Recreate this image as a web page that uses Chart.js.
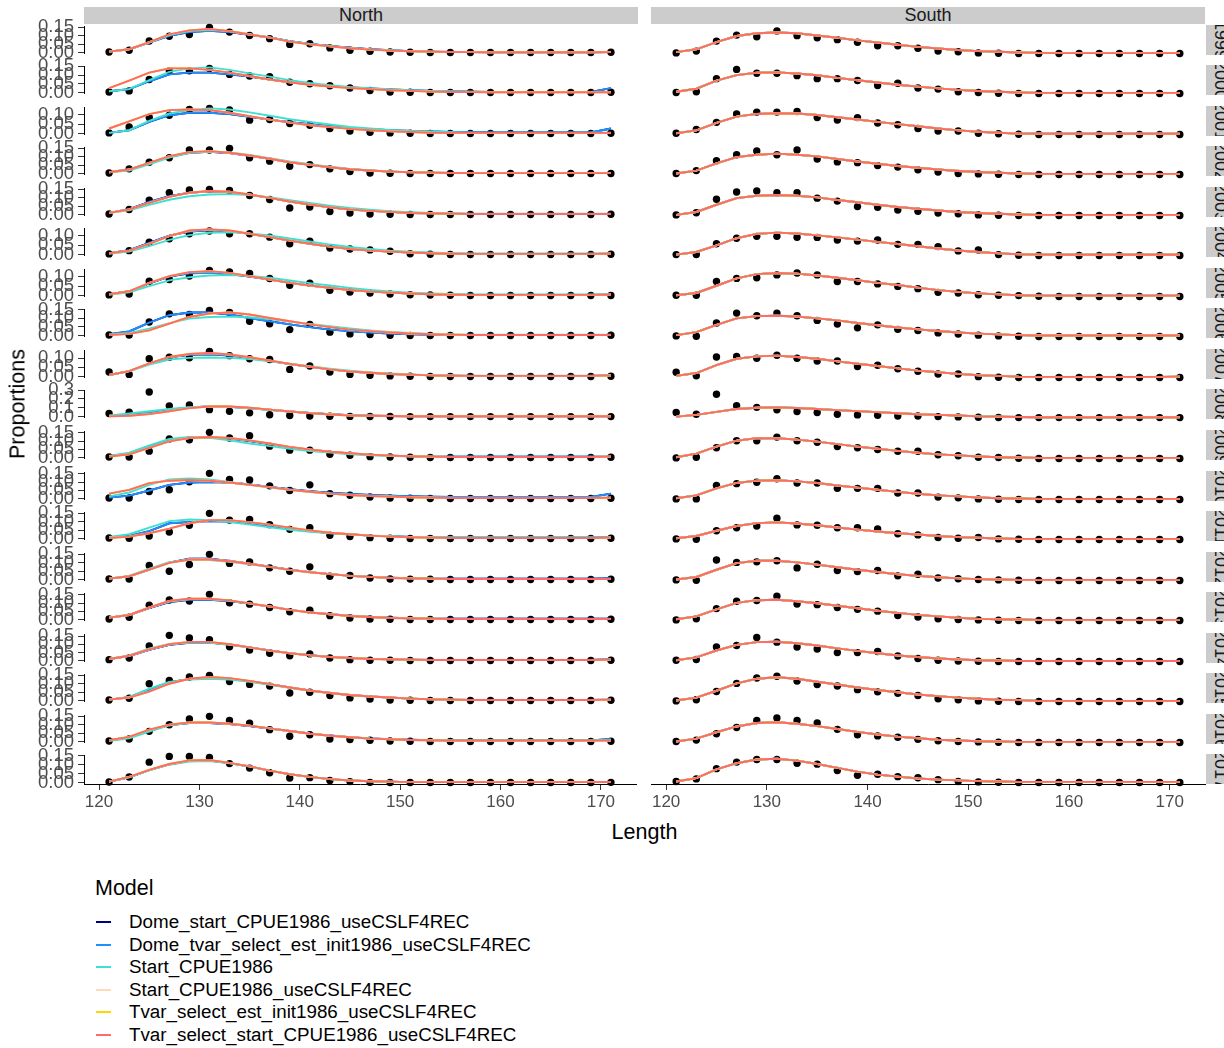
<!DOCTYPE html>
<html>
<head>
<meta charset="utf-8">
<script src="https://cdn.jsdelivr.net/npm/chart.js@4.4.1/dist/chart.umd.min.js"></script>
<style>
  body { margin: 0; background: #fff; }
  #stage { position: relative; width: 1224px; height: 1048px; overflow: hidden; background: #fff;
           font-family: "Liberation Sans", Arial, Helvetica, sans-serif; }
  #stage canvas { position: absolute; }
  .strip { position: absolute; background: #cccccc; color: #1a1a1a; font-size: 18px;
           display: flex; align-items: center; justify-content: center; white-space: nowrap; overflow: hidden; }
  .rstrip { writing-mode: vertical-rl; }
  .title { position: absolute; color: #000; font-size: 21.5px; white-space: nowrap; }
  .key { position: absolute; height: 2px; width: 15px; }
  .lab { position: absolute; color: #000; font-size: 18.8px; white-space: nowrap; }
</style>
</head>
<body>
<div id="stage"></div>
<script>
// ===== Data =====
const lengths = [121,123,125,127,129,131,133,135,137,139,141,143,145,147,149,151,153,155,157,159,161,163,165,167,169,171];
const years = ["1999","2000","2001","2002","2003","2004","2005","2006","2007","2008",
               "2009","2010","2011","2012","2013","2014","2015","2016","2017"];
const regions = ["North", "South"];
const xTicks = [120, 130, 140, 150, 160, 170];
const yTicks = [
  [0,0.05,0.1,0.15],[0,0.05,0.1,0.15],[0,0.05,0.1],[0,0.05,0.1,0.15],[0,0.05,0.1,0.15],
  [0,0.05,0.1],[0,0.05,0.1],[0,0.05,0.1,0.15],[0,0.05,0.1],[0,0.1,0.2,0.3],
  [0,0.05,0.1,0.15],[0,0.05,0.1,0.15],[0,0.05,0.1,0.15],[0,0.05,0.1,0.15],[0,0.05,0.1,0.15],
  [0,0.05,0.1,0.15],[0,0.05,0.1,0.15],[0,0.05,0.1,0.15],[0,0.05,0.1,0.15]
];

// observed proportions, one row per year
const obsNorth = [
  [0.004,0.014,0.069,0.097,0.108,0.150,0.122,0.102,0.083,0.049,0.053,0.028,0.014,0.008,0.004,0.002,0.001,0.001,0.001,0.001,0.001,0.001,0.001,0.001,0.001,0.002],
  [0.004,0.010,0.075,0.124,0.124,0.138,0.104,0.095,0.091,0.059,0.051,0.039,0.026,0.012,0.004,0.002,0.001,0.001,0.001,0.001,0.001,0.001,0.001,0.001,0.001,0.002],
  [0.004,0.035,0.085,0.097,0.127,0.133,0.124,0.071,0.074,0.053,0.044,0.027,0.014,0.007,0.004,0.002,0.001,0.001,0.001,0.001,0.001,0.001,0.001,0.001,0.001,0.002],
  [0.004,0.028,0.067,0.093,0.138,0.138,0.148,0.093,0.073,0.043,0.053,0.028,0.012,0.004,0.002,0.001,0.001,0.001,0.001,0.001,0.001,0.001,0.001,0.001,0.001,0.001],
  [0.004,0.030,0.085,0.128,0.144,0.148,0.142,0.112,0.089,0.039,0.045,0.018,0.010,0.004,0.002,0.001,0.001,0.001,0.001,0.001,0.001,0.001,0.001,0.001,0.001,0.002],
  [0.004,0.021,0.065,0.083,0.110,0.124,0.110,0.110,0.092,0.057,0.071,0.035,0.030,0.025,0.018,0.005,0.002,0.001,0.001,0.001,0.001,0.001,0.001,0.001,0.001,0.002],
  [0.004,0.009,0.076,0.085,0.103,0.133,0.124,0.117,0.090,0.055,0.065,0.028,0.019,0.014,0.009,0.005,0.003,0.002,0.001,0.001,0.001,0.001,0.001,0.001,0.001,0.001],
  [0.004,0.004,0.079,0.126,0.122,0.146,0.134,0.083,0.069,0.035,0.065,0.020,0.010,0.006,0.002,0.001,0.001,0.001,0.001,0.001,0.001,0.001,0.001,0.001,0.001,0.002],
  [0.025,0.012,0.096,0.104,0.101,0.136,0.113,0.096,0.092,0.039,0.057,0.025,0.012,0.007,0.004,0.002,0.001,0.001,0.001,0.001,0.001,0.001,0.001,0.001,0.001,0.002],
  [0.036,0.050,0.278,0.122,0.133,0.079,0.061,0.043,0.022,0.014,0.007,0.004,0.003,0.002,0.002,0.001,0.001,0.001,0.001,0.001,0.001,0.001,0.001,0.001,0.001,0.001],
  [0.004,0.004,0.039,0.112,0.108,0.152,0.118,0.132,0.069,0.045,0.045,0.020,0.014,0.006,0.004,0.002,0.001,0.001,0.001,0.001,0.001,0.001,0.001,0.001,0.001,0.002],
  [0.004,0.004,0.043,0.053,0.102,0.152,0.116,0.112,0.077,0.049,0.083,0.030,0.020,0.010,0.004,0.002,0.001,0.001,0.001,0.001,0.001,0.001,0.001,0.001,0.001,0.002],
  [0.004,0.002,0.016,0.039,0.079,0.150,0.110,0.114,0.083,0.055,0.065,0.020,0.012,0.006,0.002,0.001,0.001,0.001,0.001,0.001,0.001,0.001,0.001,0.001,0.001,0.002],
  [0.004,0.004,0.083,0.049,0.089,0.148,0.095,0.104,0.069,0.049,0.075,0.020,0.024,0.010,0.004,0.003,0.002,0.001,0.001,0.001,0.001,0.001,0.001,0.001,0.001,0.002],
  [0.004,0.014,0.087,0.118,0.112,0.152,0.102,0.093,0.073,0.047,0.057,0.024,0.010,0.004,0.002,0.001,0.001,0.001,0.001,0.001,0.001,0.001,0.001,0.001,0.001,0.002],
  [0.006,0.016,0.089,0.154,0.138,0.128,0.085,0.065,0.045,0.030,0.041,0.016,0.006,0.002,0.002,0.001,0.001,0.001,0.001,0.001,0.001,0.001,0.001,0.001,0.001,0.002],
  [0.004,0.014,0.099,0.118,0.138,0.148,0.112,0.095,0.085,0.045,0.049,0.030,0.016,0.010,0.004,0.002,0.001,0.001,0.001,0.001,0.001,0.001,0.001,0.001,0.001,0.002],
  [0.004,0.016,0.061,0.100,0.134,0.150,0.126,0.110,0.071,0.032,0.041,0.016,0.012,0.008,0.004,0.002,0.001,0.001,0.001,0.001,0.001,0.001,0.001,0.001,0.001,0.002],
  [0.004,0.032,0.114,0.146,0.146,0.140,0.106,0.081,0.055,0.026,0.028,0.012,0.006,0.002,0.001,0.001,0.001,0.001,0.001,0.001,0.001,0.001,0.001,0.001,0.001,0.002]
];
const obsSouth = [
  [0.004,0.014,0.069,0.102,0.093,0.125,0.099,0.087,0.077,0.063,0.043,0.043,0.030,0.014,0.010,0.004,0.002,0.001,0.001,0.001,0.001,0.001,0.001,0.001,0.001,0.001],
  [0.006,0.010,0.079,0.128,0.108,0.108,0.095,0.079,0.079,0.069,0.043,0.055,0.030,0.024,0.010,0.006,0.002,0.001,0.001,0.001,0.001,0.001,0.001,0.001,0.001,0.001],
  [0.007,0.025,0.060,0.101,0.110,0.110,0.113,0.083,0.071,0.083,0.057,0.048,0.030,0.018,0.018,0.007,0.004,0.002,0.001,0.001,0.001,0.001,0.001,0.001,0.001,0.001],
  [0.006,0.022,0.075,0.108,0.128,0.108,0.134,0.085,0.069,0.065,0.049,0.041,0.026,0.014,0.006,0.004,0.002,0.001,0.001,0.001,0.001,0.001,0.001,0.001,0.001,0.001],
  [0.004,0.016,0.089,0.128,0.134,0.124,0.124,0.095,0.079,0.049,0.045,0.030,0.024,0.014,0.010,0.004,0.002,0.001,0.001,0.001,0.001,0.001,0.001,0.001,0.001,0.001],
  [0.005,0.005,0.058,0.085,0.094,0.094,0.090,0.089,0.076,0.071,0.076,0.055,0.055,0.044,0.023,0.028,0.005,0.002,0.001,0.001,0.001,0.001,0.001,0.001,0.001,0.001],
  [0.007,0.007,0.074,0.089,0.092,0.106,0.115,0.106,0.074,0.074,0.062,0.050,0.039,0.021,0.018,0.009,0.007,0.005,0.002,0.001,0.001,0.001,0.001,0.001,0.001,0.001],
  [0.004,0.002,0.073,0.126,0.112,0.126,0.112,0.087,0.067,0.047,0.063,0.039,0.033,0.020,0.014,0.008,0.004,0.002,0.001,0.001,0.001,0.001,0.001,0.001,0.001,0.001],
  [0.027,0.009,0.103,0.106,0.097,0.112,0.097,0.083,0.083,0.055,0.062,0.044,0.032,0.018,0.018,0.005,0.002,0.001,0.001,0.001,0.001,0.001,0.001,0.001,0.001,0.001],
  [0.054,0.036,0.245,0.126,0.108,0.083,0.065,0.054,0.036,0.029,0.025,0.018,0.018,0.011,0.008,0.004,0.002,0.001,0.001,0.001,0.001,0.001,0.001,0.001,0.001,0.001],
  [0.004,0.008,0.061,0.100,0.100,0.120,0.100,0.091,0.067,0.061,0.051,0.041,0.041,0.022,0.016,0.008,0.006,0.002,0.001,0.001,0.001,0.001,0.001,0.001,0.001,0.001],
  [0.004,0.004,0.079,0.089,0.097,0.116,0.093,0.093,0.063,0.063,0.063,0.037,0.037,0.014,0.010,0.004,0.002,0.001,0.001,0.001,0.001,0.001,0.001,0.001,0.001,0.001],
  [0.004,0.002,0.049,0.065,0.075,0.118,0.081,0.079,0.065,0.065,0.059,0.032,0.026,0.012,0.008,0.012,0.004,0.002,0.001,0.001,0.001,0.001,0.001,0.001,0.001,0.001],
  [0.004,0.002,0.112,0.099,0.102,0.108,0.069,0.089,0.055,0.049,0.055,0.026,0.035,0.014,0.010,0.006,0.004,0.002,0.001,0.001,0.001,0.001,0.001,0.001,0.001,0.001],
  [0.004,0.010,0.067,0.108,0.112,0.136,0.093,0.089,0.073,0.063,0.053,0.028,0.020,0.010,0.006,0.004,0.002,0.001,0.001,0.001,0.001,0.001,0.001,0.001,0.001,0.001],
  [0.008,0.012,0.083,0.091,0.136,0.110,0.083,0.071,0.051,0.051,0.057,0.032,0.018,0.008,0.004,0.002,0.001,0.001,0.001,0.001,0.001,0.001,0.001,0.001,0.001,0.001],
  [0.004,0.010,0.055,0.099,0.128,0.138,0.112,0.093,0.085,0.065,0.053,0.045,0.033,0.016,0.010,0.004,0.002,0.001,0.001,0.001,0.001,0.001,0.001,0.001,0.001,0.001],
  [0.006,0.014,0.049,0.083,0.122,0.136,0.122,0.108,0.073,0.043,0.037,0.030,0.018,0.010,0.006,0.004,0.002,0.001,0.001,0.001,0.001,0.001,0.001,0.001,0.001,0.001],
  [0.006,0.020,0.075,0.110,0.124,0.124,0.104,0.099,0.065,0.039,0.045,0.032,0.026,0.016,0.006,0.004,0.002,0.001,0.001,0.001,0.001,0.001,0.001,0.001,0.001,0.001]
];

// fitted curves, North (the models that sit on top of each other share a row)
const fitNorthTvarStart = [
  [0.006,0.020,0.063,0.108,0.132,0.140,0.128,0.108,0.089,0.065,0.049,0.037,0.026,0.018,0.012,0.008,0.006,0.004,0.003,0.002,0.002,0.002,0.002,0.002,0.002,0.003],
  [0.026,0.069,0.114,0.138,0.138,0.130,0.114,0.095,0.075,0.059,0.045,0.035,0.026,0.020,0.014,0.010,0.006,0.004,0.003,0.002,0.002,0.002,0.002,0.002,0.002,0.002],
  [0.027,0.064,0.103,0.124,0.127,0.124,0.110,0.092,0.074,0.058,0.044,0.034,0.025,0.018,0.012,0.009,0.005,0.004,0.004,0.004,0.004,0.004,0.004,0.004,0.004,0.004],
  [0.008,0.024,0.063,0.102,0.126,0.132,0.122,0.106,0.087,0.067,0.051,0.037,0.026,0.018,0.012,0.008,0.006,0.004,0.003,0.003,0.003,0.003,0.003,0.003,0.003,0.003],
  [0.010,0.030,0.069,0.104,0.128,0.138,0.134,0.118,0.098,0.077,0.059,0.043,0.030,0.022,0.016,0.010,0.008,0.006,0.004,0.004,0.004,0.004,0.004,0.004,0.004,0.004],
  [0.007,0.021,0.057,0.097,0.127,0.133,0.127,0.110,0.092,0.074,0.057,0.042,0.030,0.021,0.016,0.011,0.007,0.005,0.004,0.004,0.004,0.004,0.004,0.004,0.004,0.005],
  [0.007,0.023,0.067,0.103,0.124,0.129,0.120,0.103,0.085,0.067,0.053,0.041,0.030,0.021,0.016,0.011,0.007,0.005,0.004,0.004,0.004,0.004,0.004,0.004,0.004,0.005],
  [0.004,0.010,0.030,0.069,0.108,0.128,0.134,0.122,0.102,0.083,0.065,0.049,0.035,0.026,0.018,0.012,0.008,0.006,0.004,0.004,0.004,0.004,0.004,0.004,0.004,0.004],
  [0.009,0.030,0.071,0.106,0.122,0.127,0.119,0.104,0.087,0.069,0.053,0.039,0.028,0.021,0.014,0.011,0.007,0.005,0.004,0.004,0.004,0.004,0.004,0.004,0.004,0.007],
  [0.003,0.011,0.029,0.061,0.097,0.115,0.115,0.101,0.079,0.058,0.040,0.025,0.014,0.011,0.007,0.004,0.004,0.004,0.004,0.004,0.004,0.004,0.004,0.004,0.004,0.004],
  [0.006,0.020,0.059,0.098,0.118,0.124,0.118,0.104,0.085,0.065,0.049,0.035,0.026,0.018,0.012,0.008,0.006,0.004,0.004,0.004,0.004,0.004,0.004,0.004,0.004,0.006],
  [0.030,0.053,0.093,0.108,0.112,0.108,0.097,0.083,0.069,0.053,0.041,0.030,0.022,0.016,0.012,0.008,0.006,0.004,0.004,0.004,0.004,0.004,0.004,0.004,0.004,0.006],
  [0.004,0.012,0.032,0.059,0.091,0.110,0.110,0.098,0.083,0.065,0.049,0.035,0.026,0.018,0.012,0.008,0.006,0.004,0.004,0.004,0.004,0.004,0.004,0.004,0.004,0.006],
  [0.006,0.020,0.059,0.098,0.118,0.118,0.108,0.093,0.075,0.057,0.043,0.032,0.022,0.016,0.010,0.008,0.006,0.004,0.004,0.004,0.004,0.004,0.004,0.004,0.004,0.004],
  [0.012,0.028,0.073,0.112,0.126,0.126,0.116,0.098,0.079,0.059,0.043,0.032,0.022,0.016,0.010,0.008,0.006,0.004,0.004,0.004,0.004,0.004,0.004,0.004,0.004,0.004],
  [0.010,0.030,0.069,0.100,0.114,0.114,0.100,0.081,0.061,0.045,0.032,0.022,0.016,0.010,0.008,0.006,0.004,0.004,0.004,0.004,0.004,0.004,0.004,0.004,0.004,0.006],
  [0.006,0.018,0.053,0.099,0.128,0.138,0.132,0.116,0.097,0.077,0.059,0.045,0.033,0.024,0.018,0.012,0.008,0.006,0.004,0.004,0.004,0.004,0.004,0.004,0.004,0.006],
  [0.008,0.028,0.071,0.100,0.114,0.114,0.106,0.095,0.079,0.063,0.047,0.035,0.026,0.018,0.014,0.010,0.008,0.006,0.006,0.006,0.006,0.006,0.006,0.006,0.006,0.006],
  [0.006,0.032,0.071,0.104,0.124,0.126,0.110,0.091,0.067,0.047,0.032,0.020,0.012,0.008,0.006,0.003,0.003,0.003,0.003,0.003,0.003,0.003,0.003,0.003,0.003,0.004]
];
const fitNorthDomeTvar = [
  [0.006,0.020,0.060,0.100,0.122,0.130,0.122,0.106,0.090,0.068,0.052,0.040,0.029,0.020,0.014,0.009,0.006,0.004,0.003,0.002,0.002,0.002,0.002,0.002,0.002,0.003],
  [0.008,0.020,0.065,0.104,0.114,0.114,0.104,0.091,0.075,0.059,0.047,0.037,0.030,0.024,0.018,0.014,0.010,0.008,0.006,0.004,0.004,0.004,0.004,0.004,0.004,0.026],
  [0.004,0.018,0.062,0.097,0.110,0.110,0.103,0.089,0.074,0.060,0.050,0.039,0.030,0.023,0.018,0.014,0.011,0.009,0.007,0.006,0.006,0.006,0.006,0.006,0.006,0.027],
  [0.008,0.024,0.063,0.098,0.122,0.128,0.120,0.104,0.087,0.067,0.051,0.037,0.026,0.018,0.012,0.008,0.006,0.004,0.003,0.003,0.003,0.003,0.003,0.003,0.003,0.004],
  [0.010,0.032,0.075,0.108,0.128,0.136,0.132,0.117,0.098,0.077,0.059,0.043,0.030,0.022,0.016,0.010,0.008,0.006,0.004,0.004,0.004,0.004,0.004,0.004,0.004,0.004],
  [0.007,0.023,0.062,0.100,0.122,0.128,0.124,0.109,0.092,0.074,0.057,0.042,0.030,0.021,0.016,0.011,0.007,0.005,0.004,0.004,0.004,0.004,0.004,0.004,0.004,0.005],
  [0.007,0.023,0.065,0.100,0.118,0.120,0.114,0.100,0.084,0.067,0.053,0.041,0.030,0.021,0.016,0.011,0.007,0.005,0.004,0.004,0.004,0.004,0.004,0.004,0.004,0.006],
  [0.008,0.024,0.075,0.118,0.134,0.134,0.122,0.102,0.083,0.065,0.049,0.035,0.026,0.018,0.012,0.008,0.006,0.004,0.004,0.004,0.004,0.004,0.004,0.004,0.004,0.004],
  [0.009,0.030,0.070,0.104,0.118,0.120,0.114,0.101,0.085,0.068,0.053,0.039,0.028,0.021,0.014,0.011,0.007,0.005,0.004,0.004,0.004,0.004,0.004,0.004,0.004,0.008],
  [0.008,0.022,0.045,0.075,0.104,0.116,0.112,0.098,0.078,0.058,0.041,0.027,0.017,0.011,0.007,0.004,0.004,0.004,0.004,0.004,0.004,0.004,0.004,0.004,0.004,0.004],
  [0.008,0.025,0.065,0.105,0.120,0.122,0.115,0.100,0.082,0.063,0.048,0.035,0.025,0.018,0.012,0.008,0.005,0.005,0.005,0.005,0.005,0.005,0.005,0.005,0.005,0.006],
  [0.006,0.018,0.049,0.083,0.097,0.100,0.097,0.085,0.071,0.057,0.045,0.035,0.028,0.022,0.018,0.014,0.012,0.010,0.010,0.010,0.010,0.010,0.010,0.010,0.010,0.030],
  [0.006,0.016,0.045,0.091,0.098,0.104,0.102,0.091,0.075,0.059,0.045,0.033,0.026,0.018,0.014,0.010,0.008,0.006,0.006,0.006,0.006,0.006,0.006,0.006,0.006,0.010],
  [0.006,0.020,0.059,0.100,0.122,0.122,0.110,0.094,0.076,0.058,0.044,0.032,0.023,0.016,0.011,0.008,0.006,0.005,0.005,0.005,0.005,0.005,0.005,0.005,0.005,0.008],
  [0.012,0.028,0.070,0.106,0.120,0.120,0.112,0.096,0.078,0.059,0.044,0.032,0.023,0.016,0.011,0.008,0.006,0.005,0.005,0.005,0.005,0.005,0.005,0.005,0.005,0.006],
  [0.010,0.028,0.066,0.096,0.108,0.110,0.098,0.081,0.062,0.046,0.033,0.023,0.016,0.011,0.008,0.006,0.004,0.004,0.004,0.004,0.004,0.004,0.004,0.004,0.004,0.008],
  [0.006,0.020,0.065,0.108,0.126,0.132,0.128,0.114,0.096,0.077,0.059,0.045,0.033,0.024,0.018,0.012,0.008,0.006,0.004,0.004,0.004,0.004,0.004,0.004,0.004,0.006],
  [0.008,0.026,0.068,0.098,0.110,0.110,0.104,0.093,0.078,0.063,0.048,0.036,0.027,0.019,0.015,0.011,0.009,0.007,0.007,0.007,0.007,0.007,0.007,0.007,0.007,0.016],
  [0.006,0.030,0.070,0.102,0.121,0.123,0.109,0.090,0.067,0.047,0.032,0.020,0.012,0.008,0.006,0.003,0.003,0.003,0.003,0.003,0.003,0.003,0.003,0.003,0.003,0.004]
];
const fitNorthStart = [
  [0.006,0.020,0.060,0.104,0.128,0.135,0.128,0.110,0.090,0.068,0.051,0.038,0.027,0.019,0.013,0.008,0.006,0.004,0.003,0.002,0.002,0.002,0.002,0.002,0.002,0.003],
  [0.008,0.020,0.071,0.118,0.138,0.144,0.130,0.110,0.091,0.071,0.055,0.043,0.033,0.026,0.020,0.014,0.010,0.008,0.006,0.004,0.004,0.004,0.004,0.004,0.004,0.004],
  [0.004,0.018,0.067,0.106,0.124,0.133,0.127,0.112,0.094,0.076,0.062,0.048,0.035,0.027,0.019,0.014,0.011,0.007,0.005,0.005,0.005,0.005,0.005,0.005,0.005,0.005],
  [0.008,0.018,0.055,0.094,0.120,0.130,0.124,0.110,0.091,0.071,0.055,0.040,0.028,0.019,0.013,0.009,0.006,0.004,0.003,0.003,0.003,0.003,0.003,0.003,0.003,0.003],
  [0.010,0.026,0.057,0.087,0.108,0.118,0.120,0.114,0.102,0.085,0.069,0.053,0.039,0.029,0.020,0.014,0.010,0.008,0.005,0.005,0.005,0.005,0.005,0.005,0.005,0.005],
  [0.005,0.016,0.045,0.078,0.103,0.115,0.117,0.112,0.101,0.085,0.069,0.053,0.040,0.030,0.021,0.015,0.011,0.008,0.006,0.006,0.006,0.006,0.006,0.006,0.006,0.006],
  [0.005,0.018,0.050,0.080,0.097,0.106,0.108,0.104,0.094,0.080,0.066,0.053,0.041,0.030,0.022,0.016,0.012,0.009,0.006,0.006,0.006,0.006,0.006,0.006,0.006,0.006],
  [0.006,0.016,0.040,0.072,0.098,0.108,0.110,0.106,0.096,0.082,0.068,0.054,0.041,0.030,0.021,0.015,0.010,0.007,0.005,0.005,0.005,0.005,0.005,0.005,0.005,0.005],
  [0.009,0.028,0.065,0.092,0.101,0.103,0.101,0.094,0.083,0.069,0.056,0.043,0.032,0.023,0.017,0.012,0.008,0.006,0.005,0.005,0.005,0.005,0.005,0.005,0.005,0.005],
  [0.014,0.036,0.061,0.086,0.108,0.115,0.108,0.094,0.076,0.058,0.043,0.029,0.018,0.011,0.007,0.004,0.004,0.004,0.004,0.004,0.004,0.004,0.004,0.004,0.004,0.004],
  [0.010,0.030,0.073,0.112,0.124,0.120,0.104,0.085,0.069,0.053,0.039,0.030,0.020,0.014,0.010,0.008,0.006,0.006,0.006,0.006,0.006,0.006,0.006,0.006,0.006,0.006],
  [0.014,0.037,0.083,0.116,0.122,0.116,0.100,0.083,0.067,0.053,0.039,0.030,0.022,0.016,0.012,0.008,0.006,0.006,0.006,0.006,0.006,0.006,0.006,0.006,0.006,0.006],
  [0.010,0.026,0.065,0.104,0.114,0.110,0.098,0.083,0.067,0.053,0.041,0.032,0.024,0.018,0.014,0.010,0.008,0.008,0.008,0.008,0.008,0.008,0.008,0.008,0.008,0.006],
  [0.006,0.022,0.065,0.102,0.116,0.114,0.104,0.090,0.073,0.056,0.043,0.032,0.022,0.016,0.010,0.008,0.006,0.004,0.004,0.004,0.004,0.004,0.004,0.004,0.004,0.004],
  [0.012,0.028,0.072,0.110,0.124,0.124,0.114,0.097,0.079,0.060,0.044,0.032,0.022,0.016,0.010,0.008,0.006,0.004,0.004,0.004,0.004,0.004,0.004,0.004,0.004,0.004],
  [0.010,0.032,0.074,0.102,0.110,0.108,0.096,0.079,0.061,0.045,0.032,0.022,0.016,0.010,0.008,0.006,0.004,0.004,0.004,0.004,0.004,0.004,0.004,0.004,0.004,0.006],
  [0.006,0.022,0.070,0.110,0.124,0.128,0.124,0.110,0.093,0.075,0.058,0.044,0.033,0.024,0.018,0.012,0.008,0.006,0.004,0.004,0.004,0.004,0.004,0.004,0.004,0.006],
  [0.004,0.020,0.060,0.096,0.112,0.114,0.106,0.095,0.079,0.063,0.047,0.035,0.026,0.018,0.014,0.010,0.008,0.006,0.006,0.006,0.006,0.006,0.006,0.006,0.006,0.006],
  [0.006,0.030,0.068,0.100,0.118,0.120,0.108,0.090,0.067,0.047,0.032,0.020,0.012,0.008,0.006,0.003,0.003,0.003,0.003,0.003,0.003,0.003,0.003,0.003,0.003,0.004]
];
// fitted curves, South (all six models nearly coincide)
const fitSouth = [
  [0.008,0.024,0.063,0.097,0.112,0.116,0.112,0.100,0.087,0.073,0.061,0.049,0.037,0.028,0.020,0.014,0.010,0.006,0.004,0.003,0.003,0.003,0.003,0.003,0.003,0.003],
  [0.010,0.026,0.069,0.098,0.110,0.112,0.106,0.097,0.083,0.071,0.059,0.047,0.037,0.028,0.020,0.014,0.010,0.006,0.004,0.004,0.004,0.004,0.004,0.004,0.004,0.004],
  [0.007,0.021,0.057,0.088,0.101,0.104,0.103,0.096,0.085,0.074,0.062,0.051,0.041,0.030,0.021,0.014,0.009,0.005,0.004,0.004,0.004,0.004,0.004,0.004,0.004,0.004],
  [0.006,0.022,0.061,0.095,0.108,0.114,0.108,0.099,0.085,0.071,0.059,0.047,0.037,0.028,0.020,0.014,0.010,0.006,0.004,0.004,0.004,0.004,0.004,0.004,0.004,0.004],
  [0.004,0.020,0.059,0.095,0.108,0.112,0.108,0.099,0.085,0.073,0.059,0.047,0.037,0.028,0.020,0.014,0.010,0.006,0.004,0.004,0.004,0.004,0.004,0.004,0.004,0.004],
  [0.005,0.018,0.050,0.085,0.106,0.112,0.108,0.099,0.089,0.078,0.067,0.057,0.046,0.035,0.025,0.018,0.011,0.007,0.005,0.004,0.004,0.004,0.004,0.004,0.004,0.004],
  [0.007,0.018,0.053,0.089,0.110,0.115,0.112,0.103,0.092,0.080,0.067,0.057,0.044,0.032,0.023,0.016,0.011,0.007,0.005,0.005,0.005,0.005,0.005,0.005,0.005,0.005],
  [0.008,0.024,0.063,0.098,0.110,0.112,0.108,0.098,0.087,0.073,0.061,0.049,0.039,0.030,0.022,0.016,0.012,0.008,0.006,0.006,0.006,0.006,0.006,0.006,0.006,0.006],
  [0.009,0.023,0.062,0.094,0.106,0.110,0.103,0.094,0.081,0.069,0.058,0.046,0.035,0.027,0.019,0.012,0.009,0.005,0.004,0.004,0.004,0.004,0.004,0.004,0.004,0.005],
  [0.011,0.029,0.061,0.090,0.104,0.108,0.101,0.090,0.079,0.068,0.058,0.047,0.036,0.029,0.022,0.014,0.011,0.007,0.004,0.004,0.004,0.004,0.004,0.004,0.004,0.004],
  [0.008,0.028,0.067,0.100,0.114,0.114,0.106,0.095,0.081,0.067,0.055,0.043,0.033,0.024,0.018,0.012,0.008,0.006,0.004,0.004,0.004,0.004,0.004,0.004,0.004,0.004],
  [0.008,0.024,0.063,0.093,0.106,0.108,0.102,0.093,0.079,0.067,0.055,0.043,0.033,0.024,0.018,0.012,0.008,0.006,0.004,0.004,0.004,0.004,0.004,0.004,0.004,0.004],
  [0.008,0.020,0.049,0.075,0.091,0.095,0.089,0.079,0.067,0.055,0.045,0.035,0.028,0.020,0.014,0.010,0.006,0.004,0.004,0.004,0.004,0.004,0.004,0.004,0.004,0.004],
  [0.006,0.020,0.059,0.095,0.108,0.108,0.099,0.087,0.073,0.059,0.047,0.035,0.026,0.018,0.012,0.008,0.006,0.004,0.004,0.004,0.004,0.004,0.004,0.004,0.004,0.004],
  [0.008,0.024,0.063,0.099,0.114,0.116,0.108,0.097,0.083,0.069,0.055,0.043,0.032,0.024,0.016,0.010,0.008,0.006,0.004,0.004,0.004,0.004,0.004,0.004,0.004,0.004],
  [0.008,0.024,0.063,0.095,0.110,0.112,0.104,0.091,0.075,0.061,0.047,0.035,0.026,0.018,0.012,0.008,0.006,0.004,0.004,0.004,0.004,0.004,0.004,0.004,0.004,0.004],
  [0.006,0.022,0.059,0.099,0.124,0.132,0.124,0.108,0.093,0.077,0.063,0.051,0.039,0.030,0.022,0.016,0.010,0.008,0.004,0.004,0.004,0.004,0.004,0.004,0.004,0.004],
  [0.006,0.022,0.057,0.089,0.108,0.112,0.104,0.091,0.075,0.059,0.045,0.033,0.024,0.016,0.012,0.008,0.006,0.004,0.004,0.004,0.004,0.004,0.004,0.004,0.004,0.004],
  [0.006,0.024,0.071,0.104,0.124,0.128,0.118,0.100,0.079,0.059,0.043,0.032,0.022,0.016,0.012,0.008,0.006,0.004,0.004,0.004,0.004,0.004,0.004,0.004,0.004,0.004]
];

const models = [
  { name: "Dome_start_CPUE1986_useCSLF4REC",           color: "#000080", fits: [fitNorthDomeTvar, fitSouth] },
  { name: "Dome_tvar_select_est_init1986_useCSLF4REC", color: "#1e90ff", fits: [fitNorthDomeTvar, fitSouth] },
  { name: "Start_CPUE1986",                            color: "#40e0d0", fits: [fitNorthStart, fitSouth] },
  { name: "Start_CPUE1986_useCSLF4REC",                color: "#ffdab9", fits: [fitNorthTvarStart, fitSouth] },
  { name: "Tvar_select_est_init1986_useCSLF4REC",      color: "#ffd700", fits: [fitNorthTvarStart, fitSouth] },
  { name: "Tvar_select_start_CPUE1986_useCSLF4REC",    color: "#ff6a6a", fits: [fitNorthTvarStart, fitSouth] }
];
const observed = [obsNorth, obsSouth];

// ===== Layout =====
const FONT = '"Liberation Sans", Arial, Helvetica, sans-serif';
const PANEL_TOP = 24.5, PITCH = 40.55, PANEL_H = 30;
const COL_L = [84, 651], COL_R = [638, 1205];
const PAD = 14, X_AXIS_H = 28;
const stage = document.getElementById("stage");

function addDiv(cls, text, css) {
  const d = document.createElement("div");
  d.className = cls;
  d.textContent = text;
  d.style.cssText = css;
  stage.appendChild(d);
  return d;
}

function pairs(arr) {
  return lengths.map((x, i) => ({ x: x, y: arr[i] }));
}

const xPad = 0.05 * (lengths[lengths.length - 1] - lengths[0]);
const xMin = lengths[0] - xPad, xMax = lengths[lengths.length - 1] + xPad;

function rowMax(r) {
  let m = 0;
  [0, 1].forEach(c => {
    m = Math.max(m, ...observed[c][r]);
    models.forEach(md => { m = Math.max(m, ...md.fits[c][r]); });
  });
  return m;
}

function drawPanel(r, c) {
  const north = c === 0;
  const bottom = r === years.length - 1;
  const top = Math.round(PANEL_TOP + r * PITCH);
  const left = north ? 0 : COL_L[1] - 6;
  const right = north ? COL_R[0] + 2 : 1224;
  const w = right - left;
  const h = PAD + PANEL_H + (bottom ? X_AXIS_H : PAD);

  const cv = document.createElement("canvas");
  cv.width = w; cv.height = h;
  cv.style.cssText = `left:${left}px;top:${top - PAD}px;width:${w}px;height:${h}px`;
  stage.appendChild(cv);

  const m = rowMax(r);
  const ticks = yTicks[r];
  const dec = (ticks[1] - ticks[0]) < 0.099 ? 2 : 1;
  const yMin = -0.05 * m;
  const yMax = Math.max(1.05 * m, ticks[ticks.length - 1]);

  const datasets = models.map((md, i) => ({
    label: md.name,
    data: pairs(md.fits[c][r]),
    borderColor: md.color,
    borderWidth: 1.9,
    pointRadius: 0,
    tension: 0,
    fill: false,
    order: models.length - 1 - i
  }));
  datasets.push({
    label: "Observed",
    data: pairs(observed[c][r]),
    showLine: false,
    pointRadius: 3.7,
    pointBackgroundColor: "#000",
    pointBorderWidth: 0,
    clip: false,
    order: models.length
  });

  new Chart(cv.getContext("2d"), {
    type: "line",
    data: { datasets: datasets },
    options: {
      responsive: false,
      animation: false,
      events: [],
      devicePixelRatio: 1,
      layout: { padding: { left: north ? 0 : 6, right: north ? 2 : 1224 - COL_R[1], top: PAD, bottom: bottom ? 0 : PAD } },
      plugins: { legend: { display: false }, tooltip: { enabled: false } },
      scales: {
        x: {
          type: "linear", min: xMin, max: xMax, bounds: "data", display: bottom,
          afterBuildTicks: s => { s.ticks = xTicks.map(v => ({ value: v })); },
          afterFit: s => { if (bottom) s.height = X_AXIS_H; },
          ticks: { autoSkip: false, maxRotation: 0, padding: 2, color: "#4d4d4d", font: { family: FONT, size: 17 } },
          grid: { drawOnChartArea: false, tickLength: 6, color: "#333" },
          border: { display: true, color: "#000", width: 1 }
        },
        y: {
          type: "linear", min: yMin, max: yMax, bounds: "data", display: north,
          afterBuildTicks: s => { s.ticks = ticks.map(v => ({ value: v })); },
          afterFit: s => { if (north) s.width = COL_L[0]; },
          ticks: { autoSkip: false, padding: 4, color: "#4d4d4d", font: { family: FONT, size: 18.5 },
                   callback: v => Number(v).toFixed(dec) },
          grid: { drawOnChartArea: false, tickLength: 6, color: "#333" },
          border: { display: true, color: "#000", width: 1 }
        }
      }
    }
  });
}

// ===== Strips =====
regions.forEach((name, c) => {
  addDiv("strip", name, `left:${COL_L[c]}px;top:7px;width:${COL_R[c] - COL_L[c]}px;height:17px;`);
});
years.forEach((yr, r) => {
  const top = Math.round(PANEL_TOP + r * PITCH);
  addDiv("strip rstrip", yr, `left:1206px;top:${top}px;width:28px;height:${PANEL_H}px;`);
});

// ===== Panels =====
years.forEach((yr, r) => { [0, 1].forEach(c => drawPanel(r, c)); });

// ===== Axis titles =====
addDiv("title", "Length", `left:${(COL_L[0] + COL_R[1]) / 2}px;top:820px;transform:translateX(-50%);`);
addDiv("title", "Proportions", `left:18px;top:404px;transform:translate(-50%,-50%) rotate(-90deg);`);

// ===== Legend =====
addDiv("title", "Model", "left:95px;top:876px;");
models.forEach((md, i) => {
  const y = 922 + i * 22.5;
  addDiv("key", "", `left:96px;top:${y - 1}px;background:${md.color};`);
  addDiv("lab", md.name, `left:129px;top:${y - 11}px;`);
});
</script>
</body>
</html>
